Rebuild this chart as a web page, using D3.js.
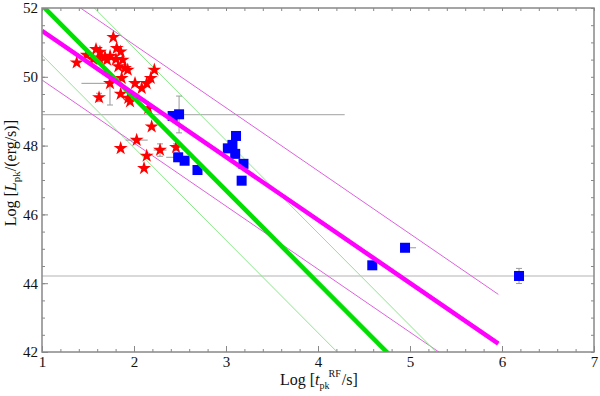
<!DOCTYPE html>
<html>
<head>
<meta charset="utf-8">
<script src="https://cdn.jsdelivr.net/npm/d3@7"></script>
<style>
body { margin: 0; background: #fff; }
text { font-family: "Liberation Serif", "Times New Roman", serif; }
</style>
</head>
<body>
<div id="chart"></div>
<script>
// red stars: log t_pk, log L_pk
var starX = [1.775, 1.587, 1.486, 1.685, 1.707, 1.812, 1.855, 1.804, 1.877, 1.902, 1.932, 1.866, 1.739, 1.620, 1.855, 1.938, 1.957, 2.011, 2.084, 2.138, 2.182, 2.221, 2.155, 2.192, 2.029, 1.855, 2.138, 2.109, 2.283, 2.457, 1.377, 1.558, 1.630, 1.740, 1.620, 1.830]
var starY = [51.15, 50.80, 50.63, 50.58, 50.49, 50.83, 50.73, 50.51, 50.49, 50.25, 50.20, 49.96, 49.81, 49.40, 49.50, 49.38, 49.28, 49.81, 49.67, 49.81, 49.96, 50.20, 49.08, 48.55, 48.16, 47.92, 47.70, 47.34, 47.87, 47.95, 50.41, 50.51, 50.72, 50.60, 50.55, 50.30]
// [index, x-, x+, y-, y+]
var starErr = [[12, 0.31, 0, 0.63, 0], [13, 0, 0, 0.12, 0.12], [24, 0.12, 0.12, 0, 0], [28, 0.07, 0.07, 0.18, 0.18], [29, 0, 0, 0.1, 0.1]]

// blue squares
var sqX = [2.42, 2.49, 2.48, 2.55, 2.69, 3.109, 3.07, 3.02, 3.10, 3.19, 3.17, 4.59, 4.946, 6.185]
var sqY = [48.86, 48.91, 47.66, 47.56, 47.29, 48.28, 48.02, 47.92, 47.76, 47.47, 46.98, 44.52, 45.03, 44.21]
var sqErr = [[1, 0, 0, 0.54, 0.53], [2, 0.13, 0, 0, 0], [10, 0, 0, 0.1, 0.1], [12, 0.02, 0.12, 0.1, 0.1], [13, 0, 0, 0.22, 0.22]]

// fits: y = a + b*x, with parallel scatter lines offset by +-off
var greenFit = {a: 54.77, b: -2.69, off: 1.45}
var magentaFit = {a: 53.17, b: -1.833, off: 1.43, x0: 1, x1: 5.96}

// horizontal gray lines [y, x0, x1]
var hLines = [[48.9, 1, 4.29], [44.21, 1, 7]]

var xTicks = [1, 2, 3, 4, 5, 6, 7]
var yTicks = [42, 44, 46, 48, 50, 52]

var width = 600, height = 396
var margin = {top: 8, right: 6, bottom: 44, left: 42}

var svg = d3.select("#chart").append("svg")
    .attr("width", width)
    .attr("height", height)

var x = d3.scaleLinear().domain([1, 7]).range([margin.left, width - margin.right])
var y = d3.scaleLinear().domain([42, 52]).range([height - margin.bottom, margin.top])

svg.append("clipPath").attr("id", "clip")
  .append("rect")
    .attr("x", x(1)).attr("y", y(52))
    .attr("width", x(7) - x(1)).attr("height", y(42) - y(52))

var plot = svg.append("g").attr("clip-path", "url(#clip)")

// gray horizontal lines
plot.selectAll(".hline").data(hLines).enter().append("line")
    .attr("x1", d => x(d[1])).attr("x2", d => x(d[2]))
    .attr("y1", d => y(d[0])).attr("y2", d => y(d[0]))
    .style("stroke", "#b4b4b4").style("stroke-width", 1.2)

function fitLine(f, off, xa, xb) {
  return [[xa, f.a + off + f.b * xa], [xb, f.a + off + f.b * xb]]
}
var line = d3.line().x(d => x(d[0])).y(d => y(d[1]))

// thin scatter lines
;[-1, 1].forEach(s => {
  plot.append("path").datum(fitLine(greenFit, s * greenFit.off, 0, 8))
    .attr("d", line).style("fill", "none")
    .style("stroke", "#8be88b").style("stroke-width", 1)
  plot.append("path").datum(fitLine(magentaFit, s * magentaFit.off, magentaFit.x0, magentaFit.x1))
    .attr("d", line).style("fill", "none")
    .style("stroke", "#e060e0").style("stroke-width", 1)
})

// error bars
function drawErr(xs, ys, errs) {
  errs.forEach(e => {
    var cx = xs[e[0]], cy = ys[e[0]]
    if (e[1] || e[2]) {
      plot.append("line")
        .attr("x1", x(cx - e[1])).attr("x2", x(cx + e[2]))
        .attr("y1", y(cy)).attr("y2", y(cy))
        .style("stroke", "#999").style("stroke-width", 1)
    }
    if (e[3] || e[4]) {
      plot.append("line")
        .attr("x1", x(cx)).attr("x2", x(cx))
        .attr("y1", y(cy - e[3])).attr("y2", y(cy + e[4]))
        .style("stroke", "#999").style("stroke-width", 1)
      ;[cy - e[3], cy + e[4]].forEach(v => {
        plot.append("line")
          .attr("x1", x(cx) - 3).attr("x2", x(cx) + 3)
          .attr("y1", y(v)).attr("y2", y(v))
          .style("stroke", "#999").style("stroke-width", 1)
      })
    }
  })
}
drawErr(starX, starY, starErr)
drawErr(sqX, sqY, sqErr)

// stars
plot.selectAll(".star").data(starX).enter().append("path")
    .attr("d", d3.symbol(d3.symbolStar, 60))
    .attr("transform", (d, i) => "translate(" + x(d) + "," + y(starY[i]) + ")")
    .style("fill", "#ff0000")

// squares
plot.selectAll(".sq").data(sqX).enter().append("rect")
    .attr("x", d => x(d) - 5)
    .attr("y", (d, i) => y(sqY[i]) - 5)
    .attr("width", 10).attr("height", 10)
    .style("fill", "#0000ff")

// thick fits
plot.append("path").datum(fitLine(greenFit, 0, 0, 8))
    .attr("d", line).style("fill", "none")
    .style("stroke", "#00e000").style("stroke-width", 4.5)
plot.append("path").datum(fitLine(magentaFit, 0, magentaFit.x0, magentaFit.x1))
    .attr("d", line).style("fill", "none")
    .style("stroke", "#ff00ff").style("stroke-width", 4.5)

// frame and ticks
var axisColor = "#888"
var minorX = d3.range(1, 7.001, 0.2)
var minorY = d3.range(42, 52.001, 0.5)

function ticks(g) {
  g.select(".domain").remove()
  g.selectAll("line").style("stroke", axisColor)
  g.selectAll("text").style("font-size", "15px").style("fill", "#111")
}

svg.append("g").attr("transform", "translate(0," + y(42) + ")")
    .call(d3.axisBottom(x).tickValues(minorX).tickSize(-3).tickFormat("")).call(ticks)
svg.append("g").attr("transform", "translate(0," + y(42) + ")")
    .call(d3.axisBottom(x).tickValues(xTicks).tickSize(-6).tickPadding(4).tickFormat(d3.format("d"))).call(ticks)
svg.append("g").attr("transform", "translate(0," + y(52) + ")")
    .call(d3.axisTop(x).tickValues(minorX).tickSize(-3).tickFormat("")).call(ticks)
svg.append("g").attr("transform", "translate(" + x(1) + ",0)")
    .call(d3.axisLeft(y).tickValues(minorY).tickSize(-3).tickFormat("")).call(ticks)
svg.append("g").attr("transform", "translate(" + x(1) + ",0)")
    .call(d3.axisLeft(y).tickValues(yTicks).tickSize(-6).tickPadding(4).tickFormat(d3.format("d"))).call(ticks)
svg.append("g").attr("transform", "translate(" + x(7) + ",0)")
    .call(d3.axisRight(y).tickValues(minorY).tickSize(-3).tickFormat("")).call(ticks)

svg.append("rect")
    .attr("x", x(1)).attr("y", y(52))
    .attr("width", x(7) - x(1)).attr("height", y(42) - y(52))
    .style("fill", "none").style("stroke", axisColor).style("stroke-width", 1.5)

// axis titles
var xl = svg.append("text")
    .attr("x", 280).attr("y", 385)
    .style("font-size", "16px").style("fill", "#111")
xl.append("tspan").text("Log [")
xl.append("tspan").style("font-style", "italic").text("t")
xl.append("tspan").attr("dy", 4).style("font-size", "10px").text("pk")
xl.append("tspan").attr("dy", -12).attr("dx", -1).style("font-size", "10px").text("RF")
xl.append("tspan").attr("dy", 8).attr("dx", 1).text("/s]")

var yl = svg.append("text")
    .attr("transform", "translate(16," + y(47.2) + ") rotate(-90)")
    .attr("text-anchor", "middle")
    .style("font-size", "16px").style("fill", "#111")
yl.append("tspan").text("Log [")
yl.append("tspan").style("font-style", "italic").text("L")
yl.append("tspan").attr("dy", 4).style("font-size", "11px").text("pk")
yl.append("tspan").attr("dy", -4).text("/(erg/s)]")
</script>
</body>
</html>
